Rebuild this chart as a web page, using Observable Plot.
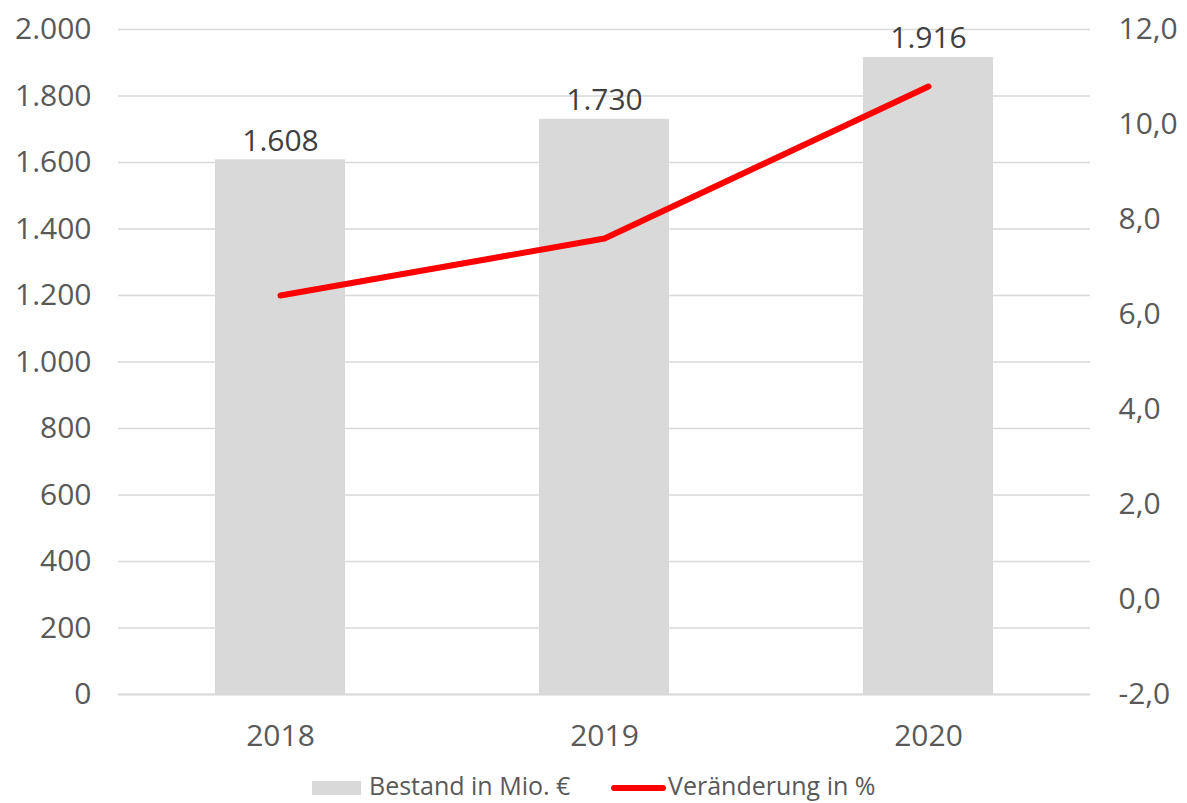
<!DOCTYPE html>
<html><head><meta charset="utf-8">
<script src="https://cdn.jsdelivr.net/npm/d3@7"></script>
<script src="https://cdn.jsdelivr.net/npm/@observablehq/plot@0.6"></script>
<style>
body{margin:0;background:#fff;font-family:"Open Sans",sans-serif;width:1187px;height:803px;position:relative;overflow:hidden;}
#chart svg{display:block;}
.lg{position:absolute;font-size:25px;color:#595959;white-space:nowrap;line-height:1;}
</style></head><body>
<div id="chart"></div>
<div id="legend"></div>
<script>
const years = ["2018", "2019", "2020"];
const bestand = [1608, 1730, 1916];
const veraenderung = [6.4, 7.6, 10.8];
const leftTicks = [0, 200, 400, 600, 800, 1000, 1200, 1400, 1600, 1800, 2000];
const rightTicks = [-2, 0, 2, 4, 6, 8, 10, 12];
const seriesNames = ["Bestand in Mio. €", "Veränderung in %"];

const de = d3.formatLocale({decimal: ",", thousands: ".", grouping: [3], currency: ["", " €"], minus: "-"});
const fmtInt = de.format(",d");
const fmtPct = de.format(".1f");

const leftMax = 2000, rMin = -2, rMax = 12;
const toLeft = p => (p - rMin) / (rMax - rMin) * leftMax;
const fromLeft = v => v / leftMax * (rMax - rMin) + rMin;

const data = years.map((y, i) => ({year: y, bestand: bestand[i], pct: veraenderung[i]}));

const W = 1187, H = 765;
const chart = Plot.plot({
  width: W, height: H,
  marginTop: 29, marginBottom: 71, marginLeft: 118, marginRight: 97,
  style: {fontFamily: '"Open Sans", sans-serif', fontSize: "30px", color: "#595959", background: "#fff"},
  x: {domain: years, paddingInner: 0.6, paddingOuter: 0.3, label: null},
  y: {domain: [0, leftMax], label: null},
  marks: [
    Plot.gridY(leftTicks, {stroke: "#d9d9d9", strokeOpacity: 1, strokeWidth: 1.6}),
    Plot.barY(data, {x: "year", y: "bestand", fill: "#d9d9d9"}),
    Plot.ruleY([0], {stroke: "#d9d9d9", strokeWidth: 2}),
    Plot.axisY(leftTicks, {anchor: "left", tickSize: 0, tickPadding: 27, tickFormat: fmtInt, fill: "#595959", fontSize: 30, label: null}),
    Plot.axisY(rightTicks.map(toLeft), {anchor: "right", tickSize: 0, tickPadding: 28, textAnchor: "start", tickFormat: v => fmtPct(fromLeft(v)).replace("\u2212", "-"), fill: "#595959", fontSize: 30, label: null}),
    Plot.axisX({anchor: "bottom", tickSize: 0, tickPadding: 30, fill: "#595959", fontSize: 30, label: null}),
    Plot.line(data, {x: "year", y: d => toLeft(d.pct), stroke: "#ff0000", strokeWidth: 6, strokeLinecap: "round", strokeLinejoin: "round"}),
    Plot.text(data, {x: "year", y: "bestand", text: d => fmtInt(d.bestand), lineAnchor: "bottom", dy: -9, fill: "#404040", fontSize: 30})
  ]
});
document.getElementById("chart").appendChild(chart);

const lg = document.getElementById("legend");
lg.innerHTML = `
  <div style="position:absolute;left:312px;top:781px;width:49px;height:14px;background:#d9d9d9"></div>
  <div class="lg" style="left:369px;top:773px">${seriesNames[0]}</div>
  <div style="position:absolute;left:611px;top:785px;width:55px;height:6px;border-radius:3px;background:#ff0000"></div>
  <div class="lg" style="left:668px;top:773px">${seriesNames[1]}</div>`;
</script>
</body></html>
